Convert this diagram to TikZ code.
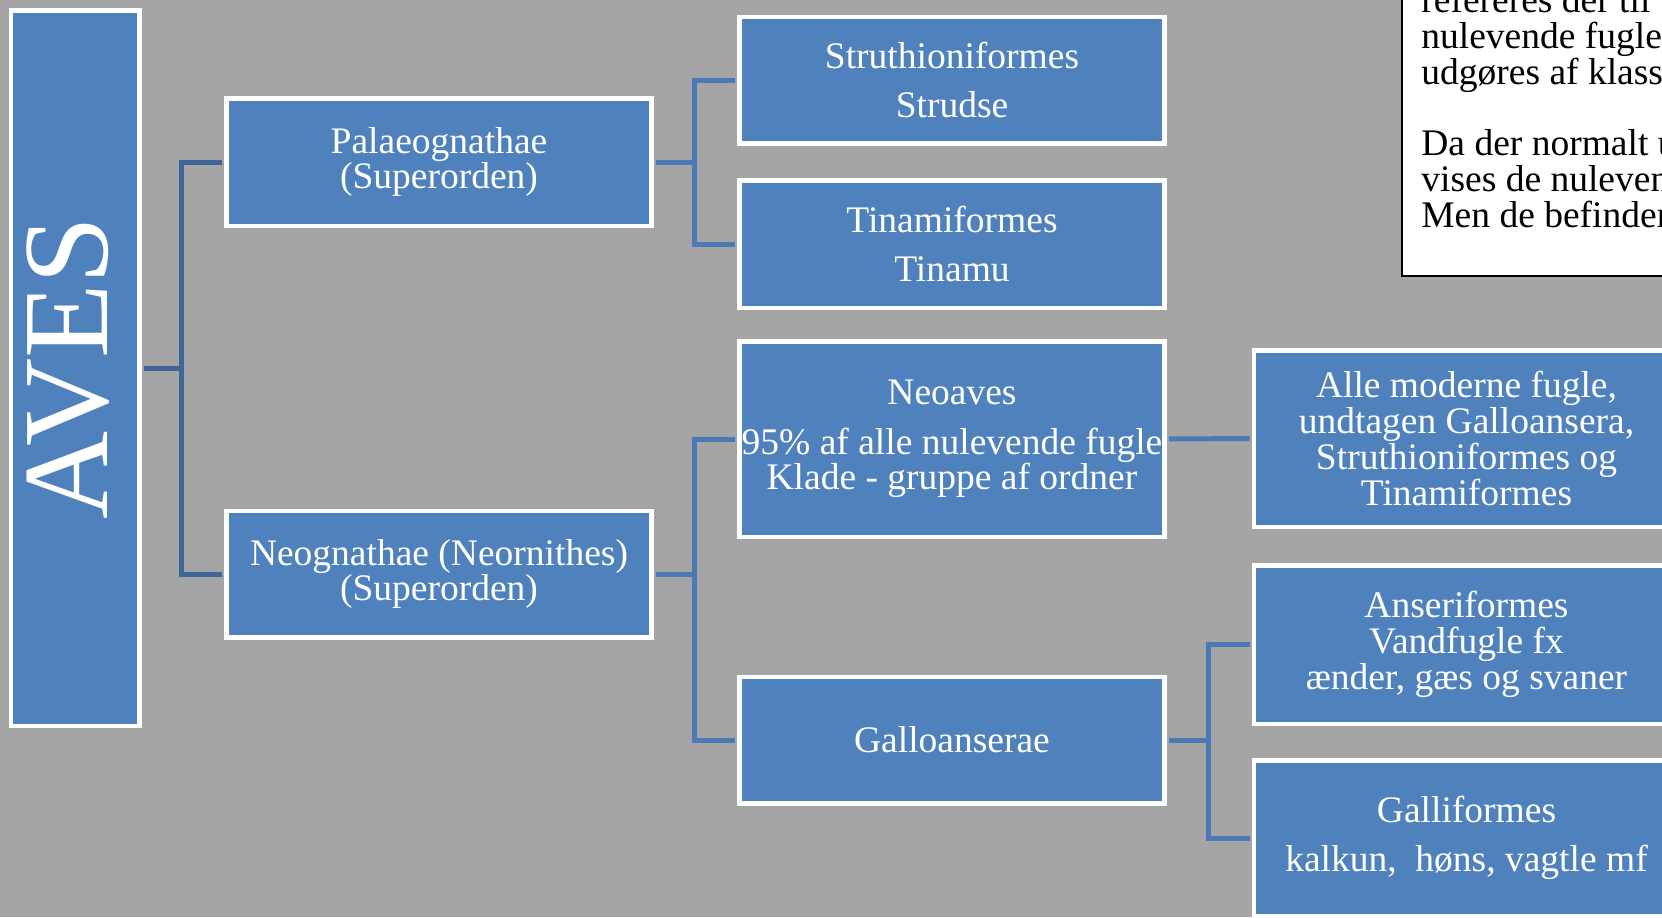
\documentclass[tikz,border=0pt]{standalone}
\usepackage{fontspec}
\setmainfont{Liberation Serif}
\usetikzlibrary{positioning}
\definecolor{bggray}{HTML}{A5A5A5}
\definecolor{boxblue}{HTML}{4F81BD}
\definecolor{linkblue}{HTML}{4A79B5}
\definecolor{linkdark}{HTML}{3F6699}
\newcommand{\boxfont}{\fontsize{18.75pt}{17.85pt}\selectfont}
\newcommand{\avesfont}{\fontsize{61pt}{61pt}\selectfont}

\begin{document}
\begin{tikzpicture}[x=0.5pt,y=-0.5pt,
    box/.style={draw=white,line width=2.25pt,fill=boxblue,text=white,align=center,
        minimum width=212.5pt,inner sep=0pt,font=\boxfont},
    link/.style={draw=linkblue,line width=2.5pt,shorten >=1.1pt,shorten <=1.1pt},
    notebox/.style={draw=black,line width=1pt,fill=white,minimum width=200pt,
        minimum height=200pt,anchor=south west},
    notetext/.style={align=left,inner sep=0pt,font=\boxfont,anchor=base west}]
\useasboundingbox (0,0) rectangle (1662,917);
\clip (0,0) rectangle (1662,917);
\fill[bggray] (0,0) rectangle (1662,917);

\node[box,rotate=90,minimum width=357.75pt,minimum height=64.25pt,
    text depth=8pt,font=\avesfont] (aves) at (75,368) {AVES};
\node[box,minimum height=63.75pt] (palaeo) at (439,162) {Palaeognathae\\(Superorden)};
\node[box,minimum height=63.25pt] (neog) at (439,574) {Neognathae (Neornithes)\\(Superorden)};
\node[box,minimum height=63.25pt] (struthio) at (952,80) {Struthioniformes\\[6.8pt]Strudse};
\node[box,minimum height=63.75pt] (tinami) at (952,244) {Tinamiformes\\[6.8pt]Tinamu};
\node[box,minimum height=97.75pt] (neoaves) at (952,439)
    {Neoaves\\[6.8pt]95\% af alle nulevende fugle\\Klade - gruppe af ordner};
\node[box,minimum height=63.25pt] (gallo) at (952,740) {Galloanserae};
\node[box,minimum height=88.25pt] (allemod) at (1466.5,438.5)
    {Alle moderne fugle,\\undtagen Galloansera,\\Struthioniformes og\\Tinamiformes};
\node[box,minimum height=79.25pt] (anser) at (1466.5,644.5)
    {Anseriformes\\Vandfugle fx\\ænder, gæs og svaner};
\node[box,minimum height=77.75pt] (galli) at (1466.5,838)
    {Galliformes\\[6.8pt]kalkun,~ høns, vagtle mf};

\node[notebox] (note) at (1401,277) {};
\node[notetext] (notetxt) at (1421,227) {refereres der til b\\nulevende fugle (\\udgøres af klasse\\[17.85pt]Da der normalt u\\vises de nulevend\\Men de befinder};

% connectors
\draw[link,draw=linkdark] (aves.south) -- ++(20pt,0) |- (palaeo.west);
\draw[link,draw=linkdark] (aves.south) -- ++(20pt,0) |- (neog.west);
\draw[link] (palaeo.east) -- ++(20.5pt,0) |- (struthio.west);
\draw[link] (palaeo.east) -- ++(20.5pt,0) |- (tinami.west);
\draw[link] (neog.east) -- ++(20.5pt,0) |- (neoaves.west);
\draw[link] (neog.east) -- ++(20.5pt,0) |- (gallo.west);
\draw[link] (neoaves.east) -- (allemod.west);
\draw[link] (gallo.east) -- ++(21pt,0) |- (anser.west);
\draw[link] (gallo.east) -- ++(21pt,0) |- (galli.west);
\end{tikzpicture}
\end{document}
